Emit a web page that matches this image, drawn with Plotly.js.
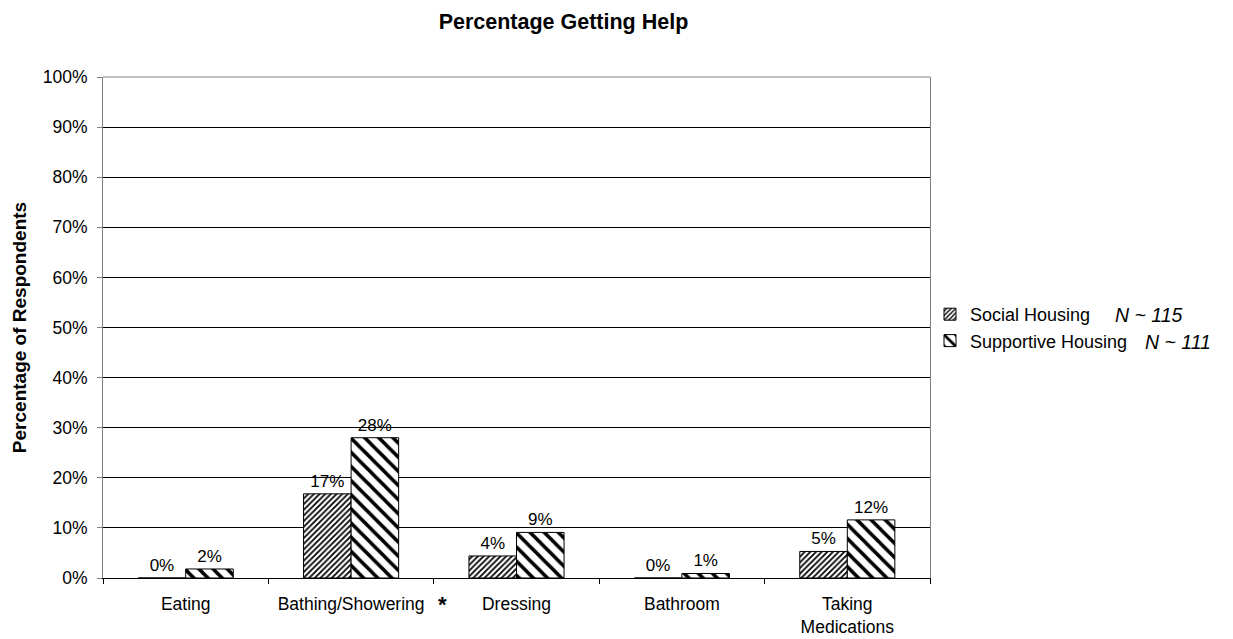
<!DOCTYPE html>
<html>
<head>
<meta charset="utf-8">
<script src="https://cdn.plot.ly/plotly-3.0.1.min.js"></script>
<style>html,body{margin:0;padding:0;background:#fff;}#chart{width:1233px;height:639px;}</style>
</head>
<body>
<div id="chart"></div>
<script>
var categories = ["Eating", "Bathing/Showering", "Dressing", "Bathroom", "Taking<br>Medications"];
var socialHousing = [0, 16.8, 4.4, 0, 5.3];
var supportiveHousing = [1.8, 28.0, 9.1, 0.9, 11.6];
var seriesNames = ["Social Housing", "Supportive Housing"];
var sampleSizes = ["N ~ 115", "N ~ 111"];
var yTickVals = [0,10,20,30,40,50,60,70,80,90,100];
var yTickText = yTickVals.map(function(v){ return v + "%"; });

var font = "Liberation Sans, Arial, sans-serif";

var traceSocial = {
  type: "bar", x: categories, y: socialHousing, name: seriesNames[0],
  marker: {color: "#fff", line: {color: "#000", width: 1},
    pattern: {shape: "/", size: 4, solidity: 0.45, fgcolor: "#000", bgcolor: "#fff"}},
  texttemplate: "%{y:.0f}%", textposition: "outside", cliponaxis: false,
  textfont: {family: font, size: 17, color: "#000"}
};
var traceSupportive = {
  type: "bar", x: categories, y: supportiveHousing, name: seriesNames[1],
  marker: {color: "#fff", line: {color: "#000", width: 1},
    pattern: {shape: "\\", size: 10, solidity: 0.35, fgcolor: "#000", bgcolor: "#fff"}},
  texttemplate: "%{y:.0f}%", textposition: "outside", cliponaxis: false,
  textfont: {family: font, size: 17, color: "#000"}
};

var layout = {
  width: 1233, height: 639,
  margin: {l: 103, r: 303, t: 77, b: 61},
  paper_bgcolor: "#fff", plot_bgcolor: "#fff",
  font: {family: font, size: 17, color: "#000"},
  title: {text: "<b>Percentage Getting Help</b>", x: 0.457, xref: "container", xanchor: "center",
    y: 0.967, yanchor: "middle", font: {family: font, size: 21.5, color: "#000"}},
  barmode: "group", bargap: 0.425, bargroupgap: 0,
  showlegend: true,
  legend: {x: 1.0, xanchor: "left", y: 0.5, yanchor: "middle", tracegroupgap: 0,
    font: {family: font, size: 18, color: "#000"}, bgcolor: "rgba(0,0,0,0)", itemwidth: 30},
  xaxis: {
    type: "category", showgrid: false, showline: true, linecolor: "#000", linewidth: 1,
    ticks: "outside", tickson: "boundaries", ticklen: 5, tickcolor: "#000", ticklabelstandoff: 10,
    tickfont: {family: font, size: 17.5, color: "#000"}, zeroline: false
  },
  yaxis: {
    range: [0, 100], tickmode: "array", tickvals: yTickVals, ticktext: yTickText,
    showgrid: true, gridcolor: "#000", gridwidth: 1,
    showline: true, linecolor: "#808080", linewidth: 1, mirror: true,
    ticks: "outside", ticklen: 5, tickcolor: "#808080", ticklabelstandoff: 6,
    tickfont: {family: font, size: 17.5, color: "#000"}, zeroline: false,
    title: {text: "<b>Percentage of Respondents</b>", standoff: 11, font: {family: font, size: 19, color: "#000"}}
  },
  shapes: [{type: "line", xref: "paper", yref: "paper", x0: 0, x1: 1, y0: 1, y1: 1,
    line: {color: "#808080", width: 1}}],
  annotations: [
    {text: "<i>" + sampleSizes[0] + "</i>", xref: "paper", yref: "paper", x: 1.2213, y: 0.525,
      xanchor: "left", yanchor: "middle", showarrow: false, font: {family: font, size: 19.5, color: "#000"}},
    {text: "<i>" + sampleSizes[1] + "</i>", xref: "paper", yref: "paper", x: 1.2576, y: 0.472,
      xanchor: "left", yanchor: "middle", showarrow: false, font: {family: font, size: 19.5, color: "#000"}},
    {text: "<b>*</b>", xref: "x", yref: "paper", x: categories[1], xshift: 91, y: 0, yshift: -26,
      xanchor: "center", yanchor: "middle", showarrow: false, font: {family: font, size: 22, color: "#000"}}
  ]
};

Plotly.newPlot("chart", [traceSocial, traceSupportive], layout, {staticPlot: true});
</script>
</body>
</html>
